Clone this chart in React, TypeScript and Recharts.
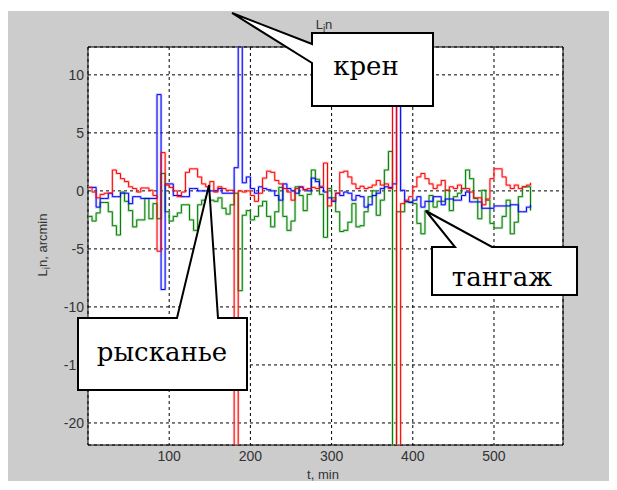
import React from 'react';
import { LineChart, Line, XAxis, YAxis, CartesianGrid, ReferenceArea } from 'recharts';

// time, min (sampling step 5 min)
const minutes = [
  0, 5, 10, 15, 20, 25, 30, 35, 40, 45,
  50, 55, 60, 65, 70, 75, 80, 85, 90, 95,
  100, 105, 110, 115, 120, 125, 130, 135, 140, 145,
  150, 155, 160, 165, 170, 175, 180, 185, 190, 195,
  200, 205, 210, 215, 220, 225, 230, 235, 240, 245,
  250, 255, 260, 265, 270, 275, 280, 285, 290, 295,
  300, 305, 310, 315, 320, 325, 330, 335, 340, 345,
  350, 355, 360, 365, 370, 375, 380, 385, 390, 395,
  400, 405, 410, 415, 420, 425, 430, 435, 440, 445,
  450, 455, 460, 465, 470, 475, 480, 485, 490, 495,
  500, 505, 510, 515, 520, 525, 530, 535, 540, 545,
];

// рысканье (red), arcmin
const ryskanie = [
  0.3, -0.1, -0.6, -0.3, -0.2, -0.2, 1.8, 1.5, 1.05, 0.8,
  0.35, 0.2, -0.1, 0.25, 0.25, 0.05, -0.4, -5.2, 3.3, 0.5,
  0.3, 0.0, -0.5, -0.1, 1.6, 1.9, 1.9, 1.2, 0.6, 0.35,
  0.8, -0.1, 0.35, 0.2, 0.05, 0.05, -30, 0.0, -0.1, 0.0,
  -0.4, -0.9, -0.2, 1.1, 1.7, 1.6, 0.9, 0.6, 0.2, -0.1,
  -0.8, 0.2, 0.3, 0.1, 0.2, 0.3, 0.2, 0.4, 2.4, -1.3,
  -0.8, -0.2, 1.6, 1.7, 1.2, 0.6, 0.2, 0.4, 0.2, 0.3,
  0.5, 0.9, 0.5, 0.6, 0.2, 30, -30, -1.1, -0.8, -0.5,
  0.35, 1.2, 1.5, 1.05, 0.6, 0.2, 0.5, 0.9, 0.05, 0.35,
  0.2, 0.5, 0.2, 0.2, -0.1, -0.6, -0.6, -1.2, -0.7, 1.05,
  1.9, 1.9, 1.2, 0.5, 0.2, 0.5, 0.2, 0.35, 0.5, 0.7,
];

// крен (blue), arcmin
const kren = [
  0.3, 0.3, -1.4, -0.65, -0.65, -0.2, -0.5, -0.5, -0.2, -0.2,
  -1.1, -0.5, -0.5, -0.65, -0.65, -0.65, -0.65, 8.3, -8.5, 0.6,
  0.6, -0.4, -0.4, -0.5, -0.5, 0.2, 0.2, 0.0, 0.0, 0.0,
  0.0, 0.0, 0.2, -0.2, -0.2, -0.2, 2.0, 30, 0.7, 1.2,
  0.2, -0.2, 0.35, 0.2, 0.1, 0.0, -0.4, -0.8, 0.6, 0.2,
  0.0, -0.2, 0.35, 0.1, 0.0, 1.1, 0.8, 0.3, -0.1, -0.6,
  -0.9, -0.2, -0.4, -0.1, -0.2, -0.8, -0.4, -0.5, -1.4, -1.2,
  -0.4, -0.2, 0.2, 0.35, 0.3, 0.6, 30, 0.05, -0.9, -1.0,
  -0.8, -0.5, -1.4, -0.9, -0.9, -0.5, -0.5, -1.2, -0.7, -0.7,
  -0.8, -0.8, -0.4, -0.1, -0.95, -0.95, -0.95, -1.5, -1.5, -1.5,
  -1.3, -1.3, -1.3, -1.3, -1.2, -1.2, -1.8, -1.8, -1.4, -1.2,
];

// тангаж (green), arcmin
const tangazh = [
  -2.2, -2.6, -1.9, -1.0, -1.0, -1.8, -3.0, -3.8, -0.1, -0.9,
  -1.7, -3.1, -2.5, -2.5, -0.65, -2.4, -1.1, -2.4, 1.5, -1.8,
  -2.6, -2.2, -1.9, -1.2, -1.2, -2.5, -3.4, -1.2, -0.8, -0.5,
  -0.8, -0.9, -0.6, -1.5, -2.0, -1.2, -0.2, -8.6, -2.1, -1.7,
  -2.5, -2.2, -1.3, -0.9, -2.2, -3.1, -1.8, 0.3, -2.2, -3.4,
  -2.6, 0.35, -0.4, -1.7, -0.3, 1.8, 1.0, -0.3, -4.0, 0.2,
  -0.6, -1.8, -3.5, -3.4, -2.7, -1.1, -3.1, -3.0, -1.8, -0.5,
  0.0, -2.1, -0.8, 1.8, 3.4, -30, -1.8, -1.8, -0.95, -0.95,
  -1.1, -2.8, -3.7, -1.7, -0.4, -1.4, -0.9, -0.9, 0.05, -1.7,
  -0.5, -0.2, 0.2, 1.8, 1.05, -0.65, -2.4, 0.05, -0.8, -2.8,
  -3.2, -3.2, -2.2, -0.8, -3.7, -2.7, -0.5, 0.35, 0.35, -1.7,
];

const xTicks = [100, 200, 300, 400, 500];
const yTicks = [-20, -15, -10, -5, 0, 5, 10];
const xDomain = [0, 585];
const yDomain = [-21.9, 12.4];

const data = minutes.map((t, i) => ({
  t,
  kren: kren[i],
  ryskanie: ryskanie[i],
  tangazh: tangazh[i],
}));

const labelFont = 'Liberation Sans, Arial, sans-serif';
const calloutFont = 'DejaVu Serif, serif';
const tickStyle = { fill: '#333', fontSize: 14, fontFamily: labelFont };

const series = [
  { key: 'tangazh', color: '#008000', halo: '#7fbf7f' },
  { key: 'kren', color: '#0000ff', halo: '#8080ff' },
  { key: 'ryskanie', color: '#ff0000', halo: '#ff8c8c' },
];

const Callout = ({ d, x, y, label }: { d: string; x: number; y: number; label: string }) => (
  <g>
    <path d={d} fill="#fff" stroke="#000" strokeWidth={2} />
    <text x={x} y={y} textAnchor="middle" style={{ fontFamily: calloutFont, fontSize: 26 }} fill="#000">
      {label}
    </text>
  </g>
);

export default function App() {
  return (
    <div style={{ paddingTop: 3 }}>
      <div style={{ position: 'relative', width: 601, height: 470, background: '#cccccc' }}>
        <LineChart width={601} height={470} data={data} margin={{ top: 36, right: 46, bottom: 0, left: 0 }}>
          <CartesianGrid stroke="#000" strokeDasharray="3 3" fill="#fff" fillOpacity={1} />
          <XAxis
            dataKey="t"
            type="number"
            domain={xDomain}
            ticks={xTicks}
            allowDataOverflow
            height={36}
            axisLine={false}
            tickLine={false}
            tickSize={0}
            tickMargin={6}
            tick={tickStyle}
          />
          <YAxis
            type="number"
            domain={yDomain}
            ticks={yTicks}
            allowDataOverflow
            width={80}
            axisLine={false}
            tickLine={false}
            tickSize={0}
            tickMargin={4}
            tick={tickStyle}
          />
          {series.map((s) => (
            <Line
              key={s.key + '-halo'}
              type="stepAfter"
              dataKey={s.key}
              stroke={s.halo}
              strokeOpacity={0.45}
              strokeWidth={2.6}
              dot={false}
              activeDot={false}
              isAnimationActive={false}
            />
          ))}
          {series.map((s) => (
            <Line
              key={s.key}
              type="stepAfter"
              dataKey={s.key}
              stroke={s.color}
              strokeWidth={1}
              dot={false}
              activeDot={false}
              isAnimationActive={false}
            />
          ))}
          <ReferenceArea
            x1={xDomain[0]}
            x2={xDomain[1]}
            y1={yDomain[0]}
            y2={yDomain[1]}
            fill="none"
            stroke="#000"
            strokeWidth={1}
          />
        </LineChart>
        <svg
          width={601}
          height={470}
          style={{ position: 'absolute', left: 0, top: 0, pointerEvents: 'none' }}
        >
          <text x={316} y={18} textAnchor="middle" fontFamily={labelFont} fontSize={13} fill="#333">
            <tspan>L</tspan>
            <tspan dy={3} fontSize={10}>i</tspan>
            <tspan dy={-3}>n</tspan>
          </text>
          <text x={315} y={468} textAnchor="middle" fontFamily={labelFont} fontSize={13} fill="#333">
            t, min
          </text>
          <text
            transform="translate(39, 234) rotate(-90)"
            textAnchor="middle"
            fontFamily={labelFont}
            fontSize={13}
            fill="#333"
          >
            <tspan>L</tspan>
            <tspan dy={3} fontSize={10}>i</tspan>
            <tspan dy={-3}>n, arcmin</tspan>
          </text>
          <Callout d="M304,22 H425 V95 H304 V52 L224,2 L304,33 Z" x={358} y={64} label="крен" />
          <Callout d="M70,307 H169 L201,174 L210,307 H239 V379 H70 Z" x={154} y={350} label="рысканье" />
          <Callout d="M424,236 H447 L418,200 L484,236 H569 V284 H424 Z" x={494} y={275} label="тангаж" />
        </svg>
      </div>
    </div>
  );
}
